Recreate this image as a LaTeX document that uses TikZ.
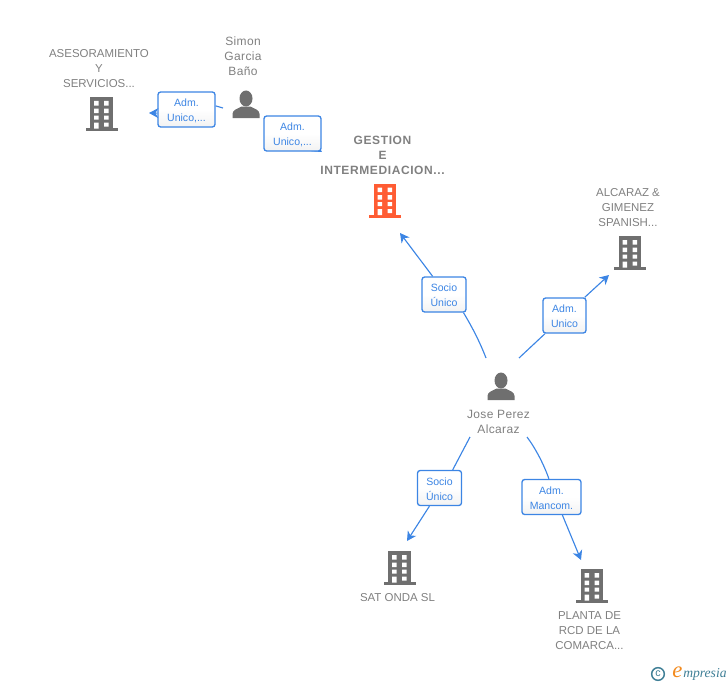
\documentclass[tikz,border=0pt]{standalone}
\usepackage{fontspec}
\setmainfont{Liberation Sans}
\newfontfamily\labelfont[LetterSpace=3]{Liberation Sans}
\newfontfamily\capsfont{Liberation Sans}
\newfontfamily\boldfont[LetterSpace=5]{Liberation Sans}
\newfontfamily\logoserif{Liberation Serif}
\usetikzlibrary{arrows.meta,backgrounds}
\definecolor{txtgray}{HTML}{808080}
\definecolor{icongray}{HTML}{6F6F6F}
\definecolor{hilite}{HTML}{FF5C33}
\definecolor{linkblue}{HTML}{3C85E4}
\definecolor{logoteal}{HTML}{3F7F96}
\definecolor{logoorange}{HTML}{F28A1E}
\newcommand{\boxstrut}{\rule{0pt}{7.2pt}}
\tikzset{
  x=0.75pt,y=-0.75pt,
  namelabel/.style={text=txtgray,align=center,inner sep=0pt,font=\labelfont\fontsize{9}{11.25}\selectfont},
  capslabel/.style={namelabel,font=\capsfont\fontsize{8.6}{11.25}\selectfont},
  rolebox/.style={draw=linkblue,line width=1pt,rounded corners=2pt,top color=white,bottom color=black!5,middle color=white,
    text=linkblue,align=center,inner sep=0pt,minimum height=26.25pt,font=\fontsize{7.9}{11.25}\selectfont},
  conn/.style={draw=linkblue,line width=0.85pt},
  connarrow/.style={conn,-{Stealth[length=7pt,width=7.5pt,inset=2.2pt]}},
  bldg/.pic={
    \fill[pic actions] (-11.5,-34) rectangle (11,-3);
    \fill[pic actions] (-16,-3) rectangle (16,0);
    \fill[white] (-7.5,-30) rectangle (-3,-25.5) (2.5,-30) rectangle (7,-25.5)
                 (-7.5,-22.5) rectangle (-3,-18) (2.5,-22.5) rectangle (7,-18)
                 (-7.5,-15.5) rectangle (-3,-11.5) (2.5,-15.5) rectangle (7,-11.5)
                 (-7.5,-8.5) rectangle (-3,-2.5) (2.5,-8.5) rectangle (7,-4.5);
  },
  person/.pic={
    \fill[pic actions] (0,-19.5) ellipse [x radius=6.5,y radius=8];
    \fill[pic actions] (-13.5,0) -- (-13.5,-4) .. controls (-13.5,-8) and (-9,-9) .. (-4.5,-11.5)
       -- (4.5,-11.5) .. controls (9,-9) and (13.5,-8) .. (13.5,-4) -- (13.5,0) -- cycle;
  }
}
\begin{document}
\begin{tikzpicture}
\useasboundingbox (0,0) rectangle (728,685);
% icons
\pic[fill=icongray] at (101.5,131) {bldg};
\pic[fill=hilite] at (385,217.5) {bldg};
\pic[fill=icongray] at (630,270) {bldg};
\pic[fill=icongray] at (399.5,585) {bldg};
\pic[fill=icongray] at (592,603) {bldg};
\pic[fill=icongray] at (246,118) {person};
\pic[fill=icongray] at (501,400) {person};
% names
\node[capslabel] (asesor) at (99,69) {ASESORAMIENTO\\Y\\SERVICIOS...};
\node[namelabel] (simon) at (243,56) {Simon\\Garcia\\Baño};
\node[namelabel,font=\boldfont\bfseries\fontsize{9}{11.25}\selectfont] (gestion) at (382.5,155) {GESTION\\E\\INTERMEDIACION...};
\node[capslabel] (alcaraz) at (628,208) {ALCARAZ \&\\GIMENEZ\\SPANISH...};
\node[namelabel] (jose) at (498.5,421.5) {Jose Perez\\Alcaraz};
\node[capslabel] (sat) at (397.5,597.5) {SAT ONDA SL};
\node[capslabel] (planta) at (589.5,631) {PLANTA DE\\RCD DE LA\\COMARCA...};
% role boxes
\node[rolebox,minimum width=42.75pt] (b1) at (186.5,109.5) {\boxstrut Adm.\\Unico,...};
\node[rolebox,minimum width=42.75pt] (b2) at (292.5,133.5) {\boxstrut Adm.\\Unico,...};
\node[rolebox,minimum width=33pt] (b3) at (444,294.5) {\boxstrut Socio\\Único};
\node[rolebox,minimum width=32.25pt] (b4) at (564.5,315.5) {\boxstrut Adm.\\Unico};
\node[rolebox,minimum width=33pt] (b5) at (439.5,488) {\boxstrut Socio\\Único};
\node[rolebox,minimum width=44.25pt] (b6) at (551.5,497) {\boxstrut Adm.\\Mancom.};
% free ends
\coordinate (s1) at (223,108);
\coordinate (t1) at (149,113);
\coordinate (t2) at (322,152);
\coordinate (s3) at (486,358);
\coordinate (t3) at (400,233);
\coordinate (s4) at (519,358);
\coordinate (t4) at (609,275);
\coordinate (s5) at (470,437);
\coordinate (t5) at (407,541);
\coordinate (s6) at (527,437);
\coordinate (t6) at (581,560);
% connectors
\draw[conn] (s1) -- (b1.7);
\draw[connarrow] (b1.187) -- (t1);
\begin{scope}[on background layer]
\draw[connarrow] (b2.center) -- (t2);
\end{scope}
\draw[conn] (s3) .. controls (479,340) and (472,327) .. (b3.-43);
\draw[connarrow] (b3.122) -- (t3);
\draw[conn] (s4) -- (b4.223);
\draw[connarrow] (b4.42) -- (t4);
\draw[conn] (s5) -- (b5.54);
\draw[connarrow] (b5.241) -- (t5);
\draw[conn] (s6) .. controls (536,449) and (544,465) .. (b6.98);
\draw[connarrow] (b6.-59) -- (t6);
% logo
\node[circle,draw=logoteal,line width=1.1pt,text=logoteal,inner sep=0pt,minimum size=9.5pt,font=\fontsize{8}{8}\selectfont] (copyr) at (658,674) {c};
\node[inner sep=0pt,text=logoorange,font=\logoserif\itshape\fontsize{17}{17}\selectfont] (logoe) at (677.5,672.5) {e};
\node[inner sep=0pt,anchor=west,text=logoteal,font=\logoserif\itshape\fontsize{10.2}{10}\selectfont] (logot) at (683,674.5) {mpresia};
\end{tikzpicture}
\end{document}
